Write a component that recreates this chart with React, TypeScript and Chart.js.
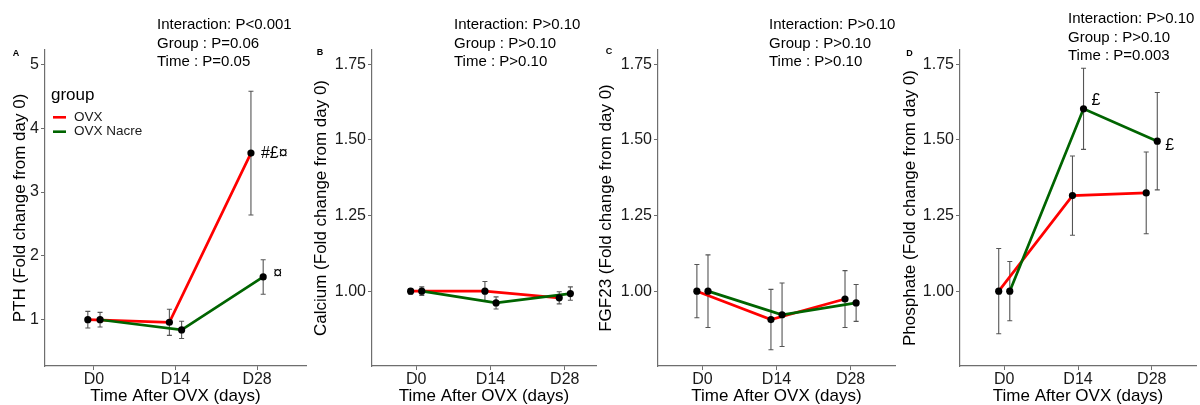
import React, { useEffect, useRef } from 'react';
import { Chart, registerables } from 'chart.js';

Chart.register(...registerables);

// ---------- data ----------
const TIMEPOINTS = ['D0', 'D14', 'D28'];
const GROUPS = ['OVX', 'OVX Nacre'];

const PTH_OVX = [1.0, 0.96, 3.61];
const PTH_OVX_SE = [0.13, 0.205, 0.97];
const PTH_NACRE = [1.0, 0.84, 1.67];
const PTH_NACRE_SE = [0.115, 0.135, 0.27];

const CALCIUM_OVX = [1.0, 1.0, 0.978];
const CALCIUM_OVX_SE = [0.009, 0.032, 0.02];
const CALCIUM_NACRE = [1.0, 0.961, 0.992];
const CALCIUM_NACRE_SE = [0.014, 0.02, 0.022];

const FGF23_OVX = [1.0, 0.906, 0.974];
const FGF23_OVX_SE = [0.088, 0.1, 0.094];
const FGF23_NACRE = [1.0, 0.922, 0.961];
const FGF23_NACRE_SE = [0.12, 0.105, 0.061];

const PHOSPHATE_OVX = [1.0, 1.316, 1.325];
const PHOSPHATE_OVX_SE = [0.141, 0.131, 0.135];
const PHOSPHATE_NACRE = [1.0, 1.603, 1.496];
const PHOSPHATE_NACRE_SE = [0.098, 0.134, 0.161];

const PTH_TICKS = [1, 2, 3, 4, 5];
const PTH_TICK_LABELS = ['1', '2', '3', '4', '5'];
const RATIO_TICKS = [1.0, 1.25, 1.5, 1.75];
const RATIO_TICK_LABELS = ['1.00', '1.25', '1.50', '1.75'];

const STATS_PTH = ['Interaction: P<0.001', 'Group : P=0.06', 'Time : P=0.05'];
const STATS_CALCIUM = ['Interaction: P>0.10', 'Group : P>0.10', 'Time : P>0.10'];
const STATS_FGF23 = ['Interaction: P>0.10', 'Group : P>0.10', 'Time : P>0.10'];
const STATS_PHOSPHATE = ['Interaction: P>0.10', 'Group : P>0.10', 'Time : P=0.003'];

// significance marks: group index, timepoint index, text
const PTH_MARKS = [
  { group: 0, time: 2, text: '#£¤' },
  { group: 1, time: 2, text: '¤' },
];
const PHOSPHATE_MARKS = [
  { group: 1, time: 1, text: '£' },
  { group: 1, time: 2, text: '£' },
];

// ---------- styles / layout ----------
const W = 1200;
const H = 405;
const FONT = '"Liberation Sans", Arial, Helvetica, sans-serif';
const RED = '#FF0000';
const GREEN = '#006400';
const AXIS_GREY = '#6e6e6e';
const ERR_GREY = '#555555';
const DODGE = 0.075;
const PLOT_TOP = 50;
const X_AXIS_H = 39;

type Mark = { group: number; time: number; text: string };
type Panel = {
  letter: string;
  yTitle: string;
  ovx: number[];
  ovxSe: number[];
  nacre: number[];
  nacreSe: number[];
  ticks: number[];
  tickLabels: string[];
  yMin: number;
  yMax: number;
  xMin: number;
  xMax: number;
  stats: string[];
  marks: Mark[];
  markOffsets: number[][];
  legend: boolean;
  padLeft: number;
  plotLeft: number;
  plotRight: number;
  letterX: number;
  letterY: number;
  statsX: number;
  statsY: number;
};

const PANELS: Panel[] = [
  {
    letter: 'A', yTitle: 'PTH (Fold change from day 0)',
    ovx: PTH_OVX, ovxSe: PTH_OVX_SE, nacre: PTH_NACRE, nacreSe: PTH_NACRE_SE,
    ticks: PTH_TICKS, tickLabels: PTH_TICK_LABELS, yMin: 0.275, yMax: 5.225,
    xMin: -0.6, xMax: 2.6, stats: STATS_PTH, marks: PTH_MARKS,
    markOffsets: [[10, 0], [10, -3]], legend: true,
    padLeft: 11.5, plotLeft: 45, plotRight: 306, letterX: 16, letterY: 54,
    statsX: 157, statsY: 25,
  },
  {
    letter: 'B', yTitle: 'Calcium (Fold change from day 0)',
    ovx: CALCIUM_OVX, ovxSe: CALCIUM_OVX_SE, nacre: CALCIUM_NACRE, nacreSe: CALCIUM_NACRE_SE,
    ticks: RATIO_TICKS, tickLabels: RATIO_TICK_LABELS, yMin: 0.7525, yMax: 1.7975,
    xMin: -0.595, xMax: 2.42, stats: STATS_CALCIUM, marks: [],
    markOffsets: [], legend: false,
    padLeft: 313.2, plotLeft: 372, plotRight: 596, letterX: 320, letterY: 53,
    statsX: 454, statsY: 25,
  },
  {
    letter: 'C', yTitle: 'FGF23 (Fold change from day 0)',
    ovx: FGF23_OVX, ovxSe: FGF23_OVX_SE, nacre: FGF23_NACRE, nacreSe: FGF23_NACRE_SE,
    ticks: RATIO_TICKS, tickLabels: RATIO_TICK_LABELS, yMin: 0.7525, yMax: 1.7975,
    xMin: -0.6, xMax: 2.6, stats: STATS_FGF23, marks: [],
    markOffsets: [], legend: false,
    padLeft: 598.2, plotLeft: 658, plotRight: 895, letterX: 609, letterY: 52,
    statsX: 769, statsY: 25,
  },
  {
    letter: 'D', yTitle: 'Phosphate (Fold change from day 0)',
    ovx: PHOSPHATE_OVX, ovxSe: PHOSPHATE_OVX_SE, nacre: PHOSPHATE_NACRE, nacreSe: PHOSPHATE_NACRE_SE,
    ticks: RATIO_TICKS, tickLabels: RATIO_TICK_LABELS, yMin: 0.7525, yMax: 1.7975,
    xMin: -0.6, xMax: 2.6, stats: STATS_PHOSPHATE, marks: PHOSPHATE_MARKS,
    markOffsets: [[8, -8], [8, 4]], legend: false,
    padLeft: 901.5, plotLeft: 960, plotRight: 1198, letterX: 909.5, letterY: 53.5,
    statsX: 1068, statsY: 19,
  },
];

function toPoints(values: number[], shift: number) {
  return values.map((y, i) => ({ x: i + shift, y }));
}

function buildChart(canvas: HTMLCanvasElement, p: Panel) {
  const ovxPts = toPoints(p.ovx, -DODGE);
  const nacrePts = toPoints(p.nacre, DODGE);

  const errorBarPlugin = {
    id: 'errorBars' + p.letter,
    beforeDatasetsDraw(chart: any) {
      const ctx = chart.ctx;
      const ys = chart.scales.y;
      const sets = [
        { meta: chart.getDatasetMeta(0), mean: p.ovx, se: p.ovxSe },
        { meta: chart.getDatasetMeta(1), mean: p.nacre, se: p.nacreSe },
      ];
      ctx.save();
      ctx.strokeStyle = ERR_GREY;
      ctx.lineWidth = 1.1;
      sets.forEach((s) => {
        s.meta.data.forEach((pt: any, i: number) => {
          const x = pt.x;
          const yTop = ys.getPixelForValue(s.mean[i] + s.se[i]);
          const yBot = ys.getPixelForValue(s.mean[i] - s.se[i]);
          ctx.beginPath();
          ctx.moveTo(x, yTop);
          ctx.lineTo(x, yBot);
          ctx.moveTo(x - 2.5, yTop);
          ctx.lineTo(x + 2.5, yTop);
          ctx.moveTo(x - 2.5, yBot);
          ctx.lineTo(x + 2.5, yBot);
          ctx.stroke();
        });
      });
      ctx.restore();
    },
  };

  const decorPlugin = {
    id: 'decor' + p.letter,
    afterDraw(chart: any) {
      const ctx = chart.ctx;
      ctx.save();
      // panel letter
      ctx.fillStyle = '#000';
      ctx.font = `bold 9px ${FONT}`;
      ctx.textAlign = 'center';
      ctx.textBaseline = 'middle';
      ctx.fillText(p.letter, p.letterX, p.letterY);
      // stats text
      ctx.font = `15px ${FONT}`;
      ctx.textAlign = 'left';
      p.stats.forEach((s, i) => ctx.fillText(s, p.statsX, p.statsY + i * 18.5));
      // significance marks
      ctx.font = `16px ${FONT}`;
      p.marks.forEach((m, k) => {
        const pt = chart.getDatasetMeta(m.group).data[m.time];
        const off = p.markOffsets[k] || [9, 0];
        ctx.fillText(m.text, pt.x + off[0], pt.y + off[1]);
      });
      // legend
      if (p.legend) {
        ctx.font = `17px ${FONT}`;
        ctx.fillStyle = '#000';
        ctx.fillText('group', 51, 95);
        const items = [chart.data.datasets[3], chart.data.datasets[2]];
        items.forEach((ds: any, i: number) => {
          const y = 117.3 + i * 14.4;
          ctx.strokeStyle = ds.borderColor;
          ctx.lineWidth = 2.6;
          ctx.beginPath();
          ctx.moveTo(53, y);
          ctx.lineTo(66, y);
          ctx.stroke();
          ctx.font = `13.5px ${FONT}`;
          ctx.fillStyle = '#1a1a1a';
          ctx.fillText(ds.label, 74, y);
        });
      }
      ctx.restore();
    },
  };

  return new Chart(canvas, {
    type: 'line',
    data: {
      datasets: [
        {
          label: GROUPS[0] + ' points', data: ovxPts, showLine: false,
          pointRadius: 3.6, pointBackgroundColor: '#000', pointBorderColor: '#000', pointBorderWidth: 0,
          borderColor: '#000',
        },
        {
          label: GROUPS[1] + ' points', data: nacrePts, showLine: false,
          pointRadius: 3.6, pointBackgroundColor: '#000', pointBorderColor: '#000', pointBorderWidth: 0,
          borderColor: '#000',
        },
        {
          label: GROUPS[1], data: nacrePts, borderColor: GREEN, borderWidth: 2.7,
          pointRadius: 0, tension: 0, fill: false,
        },
        {
          label: GROUPS[0], data: ovxPts, borderColor: RED, borderWidth: 2.7,
          pointRadius: 0, tension: 0, fill: false,
        },
      ],
    } as any,
    options: {
      responsive: false,
      animation: false,
      events: [],
      layout: {
        padding: { left: p.padLeft, right: W - p.plotRight, top: PLOT_TOP, bottom: 0 },
      },
      plugins: {
        legend: { display: false },
        tooltip: { enabled: false },
        title: { display: false },
      },
      scales: {
        x: {
          type: 'linear',
          min: p.xMin,
          max: p.xMax,
          afterBuildTicks: (scale: any) => {
            scale.ticks = TIMEPOINTS.map((_, i) => ({ value: i }));
          },
          afterFit: (scale: any) => {
            scale.height = X_AXIS_H;
          },
          ticks: {
            callback: (v: any) => TIMEPOINTS[v] ?? '',
            color: '#1a1a1a',
            font: { family: FONT, size: 16, lineHeight: 1.1 },
            padding: 1,
            maxRotation: 0,
            autoSkip: false,
          },
          grid: {
            drawOnChartArea: false, drawTicks: true, tickLength: 4,
            color: AXIS_GREY, lineWidth: 1,
          },
          border: { display: true, color: AXIS_GREY, width: 1.2 },
          title: {
            display: true, text: 'Time After OVX (days)', color: '#000',
            font: { family: FONT, size: 17, lineHeight: 1 }, padding: 0,
          },
        },
        y: {
          type: 'linear',
          min: p.yMin,
          max: p.yMax,
          afterBuildTicks: (scale: any) => {
            scale.ticks = p.ticks.map((v) => ({ value: v }));
          },
          afterFit: (scale: any) => {
            scale.width = p.plotLeft - p.padLeft;
          },
          ticks: {
            callback: (v: any) => {
              const i = p.ticks.indexOf(v);
              return i >= 0 ? p.tickLabels[i] : '';
            },
            color: '#1a1a1a',
            font: { family: FONT, size: 16 },
            padding: 2,
            autoSkip: false,
          },
          grid: {
            drawOnChartArea: false, drawTicks: true, tickLength: 4,
            color: AXIS_GREY, lineWidth: 1,
          },
          border: { display: true, color: AXIS_GREY, width: 1.2 },
          title: {
            display: true, text: p.yTitle, color: '#000',
            font: { family: FONT, size: 17, lineHeight: 1 }, padding: 0,
          },
        },
      },
    } as any,
    plugins: [errorBarPlugin, decorPlugin],
  });
}

function PanelChart({ panel }: { panel: Panel }) {
  const ref = useRef<HTMLCanvasElement | null>(null);
  useEffect(() => {
    if (!ref.current) return;
    const chart = buildChart(ref.current, panel);
    return () => chart.destroy();
  }, [panel]);
  return (
    <canvas
      ref={ref}
      width={W}
      height={H}
      style={{ position: 'absolute', left: 0, top: 0, width: W, height: H }}
    />
  );
}

export default function App() {
  return (
    <div
      style={{
        position: 'fixed', left: 0, top: 0, width: W, height: H,
        background: '#fff', overflow: 'hidden',
      }}
    >
      {PANELS.map((p) => (
        <PanelChart key={p.letter} panel={p} />
      ))}
    </div>
  );
}
